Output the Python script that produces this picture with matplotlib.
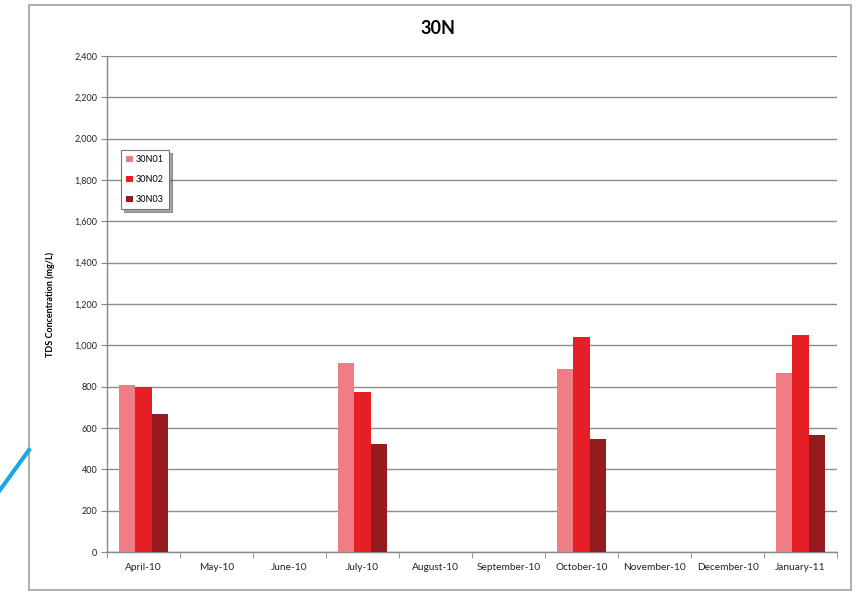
import matplotlib
matplotlib.use("Agg")
import matplotlib.pyplot as plt
import numpy as np
from matplotlib.patches import Rectangle
from matplotlib.lines import Line2D

categories = ["April-10", "May-10", "June-10", "July-10", "August-10", "September-10",
              "October-10", "November-10", "December-10", "January-11"]
series_names = ["30N01", "30N02", "30N03"]
s30N01 = [808, np.nan, np.nan, 915, np.nan, np.nan, 885, np.nan, np.nan, 868]
s30N02 = [800, np.nan, np.nan, 775, np.nan, np.nan, 1040, np.nan, np.nan, 1048]
s30N03 = [668, np.nan, np.nan, 525, np.nan, np.nan, 548, np.nan, np.nan, 565]
yticks = list(range(0, 2401, 200))
colors = ["#EF7D83", "#E61E26", "#951B1F"]

plt.rcParams['font.family'] = ['Lato', 'DejaVu Sans']

fig = plt.figure(figsize=(8.59, 5.93), dpi=100)
ax = fig.add_axes([107/859, 1-552/593, 730/859, 496/593])

x = np.arange(len(categories))
w = 0.227
for i, (vals, name) in enumerate(zip([s30N01, s30N02, s30N03], series_names)):
    ax.bar(x + (i - 1) * w, vals, width=w, color=colors[i], label=name, zorder=3)

ax.set_xlim(-0.5, len(categories) - 0.5)
ax.set_ylim(0, 2400)
ax.set_yticks(yticks)
ax.set_yticklabels([f"{v:,}" for v in yticks], fontsize=6.5, color="#222222")
ax.set_xticks(x)
ax.set_xticklabels(categories, fontsize=7.3, color="#222222")
ax.tick_params(axis='x', length=0, pad=8)
ax.set_xticks(np.arange(-0.5, len(categories), 1), minor=True)
ax.tick_params(axis='x', which='minor', length=4, color="#888888", direction='out')
ax.tick_params(axis='y', length=4, color="#888888", direction='out', pad=3)
ax.yaxis.grid(True, color="#8c8c8c", linewidth=1.0, zorder=0)
ax.set_axisbelow(True)
for s in ["top", "right"]:
    ax.spines[s].set_visible(False)
for s in ["left", "bottom"]:
    ax.spines[s].set_color("#888888")
    ax.spines[s].set_linewidth(1.0)

ax.set_ylabel("TDS Concentration (mg/L)", fontsize=6.5, fontweight='bold', labelpad=14)
fig.text(438/859, 1-28/593, "30N", fontsize=13, fontweight='bold',
         ha='center', va='center')

leg = ax.legend(loc='upper left', bbox_to_anchor=(0.013, 0.82), fontsize=6.5,
                frameon=True, fancybox=False, shadow=True, handlelength=0.7,
                handleheight=0.7, labelspacing=1.2, borderpad=0.6, handletextpad=0.3)
leg.get_frame().set_edgecolor("#777777")
leg.get_frame().set_linewidth(0.8)

# outer frame of the chart area
fig.add_artist(Rectangle((29/859, 1-590/593), (851-29)/859, (590-5)/593,
                         transform=fig.transFigure, fill=False,
                         edgecolor="#b0b0b0", linewidth=1.5))
# blue decorative stroke at left
fig.add_artist(Line2D([0/859, 29/859], [1-490/593, 1-450/593],
                      transform=fig.transFigure, color="#1AA9E6", linewidth=3))

fig.savefig("out.png", dpi=100)
